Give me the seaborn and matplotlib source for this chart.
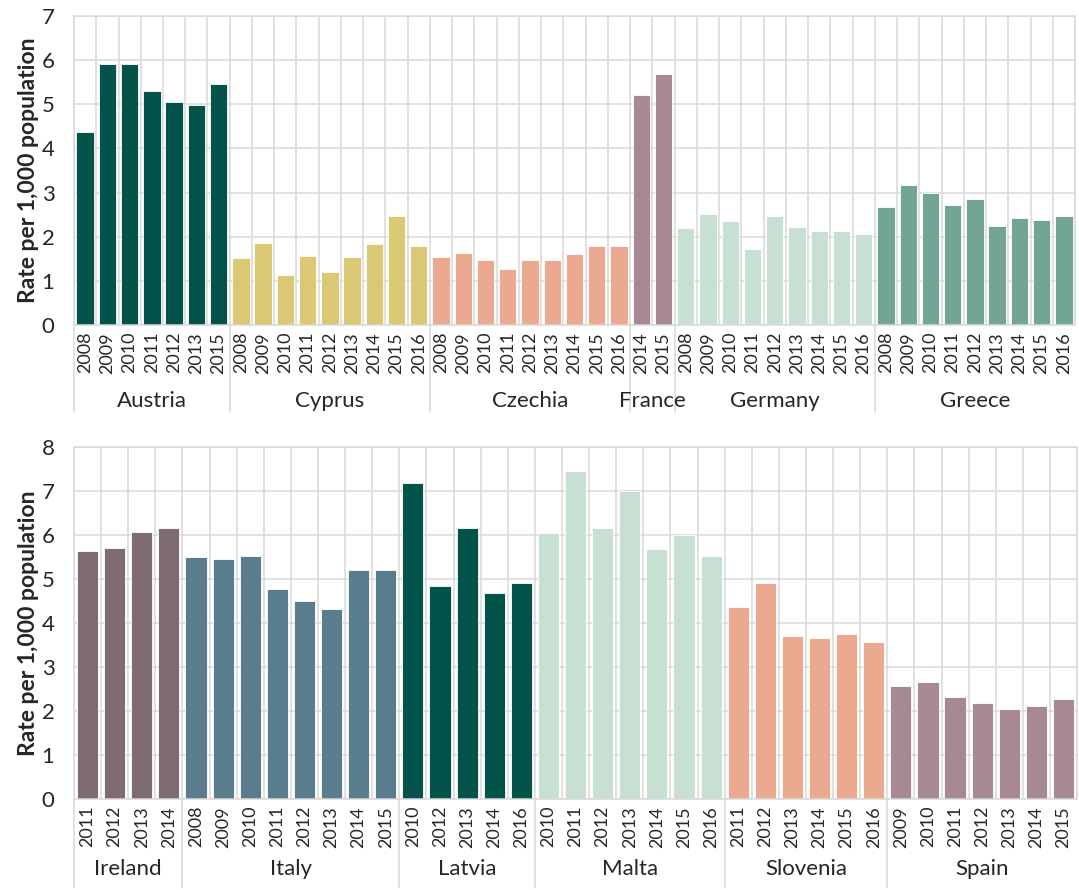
import numpy as np
import pandas as pd
import matplotlib
matplotlib.use('Agg')
import matplotlib.pyplot as plt
import seaborn as sns

# top panel data
top_countries = ['Austria', 'Cyprus', 'Czechia', 'France', 'Germany', 'Greece']
top_years = [
    [2008, 2009, 2010, 2011, 2012, 2013, 2015],
    [2008, 2009, 2010, 2011, 2012, 2013, 2014, 2015, 2016],
    [2008, 2009, 2010, 2011, 2012, 2013, 2014, 2015, 2016],
    [2014, 2015],
    [2008, 2009, 2010, 2011, 2012, 2013, 2014, 2015, 2016],
    [2008, 2009, 2010, 2011, 2012, 2013, 2014, 2015, 2016],
]
top_values = [
    [4.38, 5.92, 5.92, 5.31, 5.05, 4.99, 5.46],
    [1.52, 1.86, 1.14, 1.57, 1.20, 1.55, 1.83, 2.47, 1.78],
    [1.55, 1.64, 1.48, 1.28, 1.48, 1.48, 1.60, 1.80, 1.80],
    [5.20, 5.68],
    [2.20, 2.52, 2.36, 1.73, 2.46, 2.22, 2.14, 2.14, 2.06],
    [2.67, 3.17, 2.98, 2.71, 2.85, 2.25, 2.43, 2.39, 2.46],
]
top_colors = ['#03534A', '#DBC875', '#EBAA8F', '#A78993', '#C8E0D1', '#72A693']

# bottom panel data
bot_countries = ['Ireland', 'Italy', 'Latvia', 'Malta', 'Slovenia', 'Spain']
bot_years = [
    [2011, 2012, 2013, 2014],
    [2008, 2009, 2010, 2011, 2012, 2013, 2014, 2015],
    [2010, 2012, 2013, 2014, 2016],
    [2010, 2011, 2012, 2013, 2014, 2015, 2016],
    [2011, 2012, 2013, 2014, 2015, 2016],
    [2009, 2010, 2011, 2012, 2013, 2014, 2015],
]
bot_values = [
    [5.64, 5.71, 6.08, 6.17],
    [5.49, 5.45, 5.52, 4.77, 4.49, 4.33, 5.20, 5.20],
    [7.18, 4.85, 6.17, 4.68, 4.92],
    [6.05, 7.46, 6.17, 7.00, 5.68, 6.00, 5.52],
    [4.37, 4.92, 3.71, 3.65, 3.75, 3.56],
    [2.56, 2.65, 2.31, 2.18, 2.05, 2.12, 2.28],
]
bot_colors = ['#7F6B73', '#5A7D8E', '#03534A', '#C8E0D1', '#EBAA8F', '#A78993']

GRID = '#D9D9D9'


def build_df(countries, years, values):
    rows = []
    for c, ys, vs in zip(countries, years, values):
        for y, v in zip(ys, vs):
            rows.append({'country': c, 'year': str(y), 'key': c + ' ' + str(y), 'value': v})
    return pd.DataFrame(rows)


def draw_panel(ax, countries, years, values, colors, ymax, line_depth, label_y):
    df = build_df(countries, years, values)
    n = len(df)
    sns.barplot(data=df, x='key', y='value', hue='country', palette=dict(zip(countries, colors)),
                dodge=False, saturation=1, width=0.78, edgecolor='white', linewidth=0.6,
                legend=False, zorder=2, ax=ax)

    ax.set_xlim(-0.5, n - 0.5)
    ax.set_ylim(0, ymax)
    ax.set_yticks(range(ymax + 1))
    ax.set_xticks(np.arange(n))
    ax.set_xticklabels(df['year'], rotation=90)
    ax.set_xticks(np.arange(n + 1) - 0.5, minor=True)
    ax.grid(False)
    ax.grid(which='minor', axis='x', color=GRID, linewidth=1.1, zorder=0)
    ax.grid(which='major', axis='y', color=GRID, linewidth=1.1, zorder=0)
    ax.set_axisbelow(True)
    ax.tick_params(axis='x', which='both', length=0, pad=5, labelsize=13)
    ax.tick_params(axis='y', length=0, pad=14, labelsize=16)
    for s in ax.spines.values():
        s.set_color(GRID)
        s.set_linewidth(1.1)
    ax.set_xlabel('')
    ax.set_ylabel('Rate per 1,000 population', fontsize=16.5, fontweight='bold', labelpad=2)

    # group separators and country names under the year labels
    trans = ax.get_xaxis_transform()
    start = 0
    for c, ys in zip(countries, years):
        ax.plot([start - 0.5, start - 0.5], [0, -line_depth], transform=trans,
                color=GRID, linewidth=1.1, clip_on=False)
        mid = start + (len(ys) - 1) / 2
        ax.text(mid, label_y, c, transform=trans, ha='center', va='center', fontsize=16)
        start += len(ys)


sns.set_theme(style='white')
plt.rcParams['font.family'] = ['Lato', 'DejaVu Sans']

fig = plt.figure(figsize=(10.79, 8.90), dpi=100)
ax1 = fig.add_axes([0.0686, 0.6348, 0.9277, 0.3472])
ax2 = fig.add_axes([0.0686, 0.1022, 0.9296, 0.3955])

draw_panel(ax1, top_countries, top_years, top_values, top_colors, 7, 0.28, -0.245)
draw_panel(ax2, bot_countries, bot_years, bot_values, bot_colors, 8, 0.253, -0.198)

fig.savefig('out.png', dpi=100)
